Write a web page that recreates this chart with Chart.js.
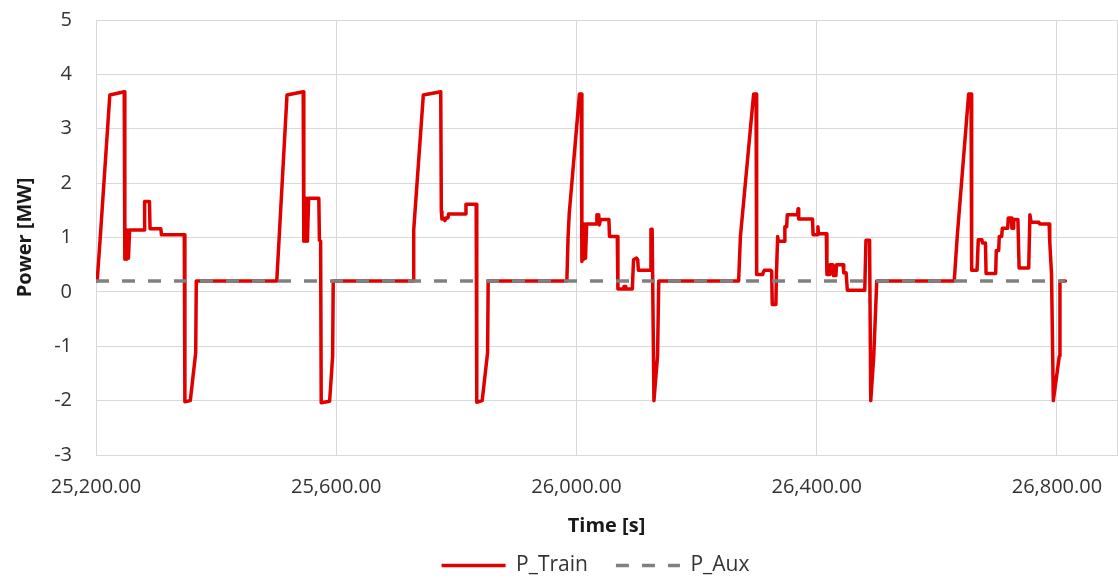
<!DOCTYPE html>
<html>
<head>
<meta charset="utf-8">
<script src="https://cdn.jsdelivr.net/npm/chart.js@4.4.1/dist/chart.umd.min.js"></script>
<style>
html,body{margin:0;padding:0;background:#ffffff;overflow:hidden;}
#wrap{width:1118px;height:578px;position:relative;}
</style>
</head>
<body>
<div id="wrap"><canvas id="c" width="1118" height="578"></canvas></div>
<script>
// ---- data ----
const trainTime = [
  25200, 25202, 25208, 25223, 25247, 25248, 25250, 25251, 25253, 25254, 25256, 25280, 25281, 25289, 25290, 25308, 25309, 25347, 25348, 25357, 25366, 25367,
  25501, 25518, 25545, 25546, 25548, 25549, 25551, 25552, 25554, 25571, 25572, 25574, 25575, 25589, 25594, 25595,
  25728, 25729, 25745, 25774, 25775, 25776, 25780, 25781, 25783, 25786, 25787, 25815, 25816, 25833, 25834, 25843, 25852, 25853,
  25984, 25986, 25988, 26005, 26008, 26009, 26011, 26012, 26014, 26015, 26017, 26033, 26034, 26036, 26037, 26038, 26040, 26054, 26055, 26068, 26069, 26078, 26079, 26082, 26083, 26093, 26095, 26100, 26102, 26103, 26123, 26124, 26126, 26129, 26135, 26137,
  26270, 26273, 26295, 26299, 26300, 26310, 26311, 26313, 26323, 26325, 26326, 26332, 26333, 26335, 26336, 26346, 26347, 26350, 26351, 26368, 26369, 26370, 26393, 26394, 26401, 26402, 26403, 26416, 26417, 26421, 26422, 26427, 26428, 26432, 26433, 26444, 26445, 26449, 26451, 26480, 26482, 26488, 26490, 26495, 26500,
  26629, 26634, 26653, 26657, 26658, 26667, 26669, 26675, 26676, 26681, 26682, 26698, 26699, 26703, 26704, 26708, 26709, 26718, 26719, 26724, 26725, 26727, 26728, 26735, 26737, 26753, 26755, 26757, 26770, 26771, 26787, 26788, 26791, 26794, 26804, 26805, 26814
];
const trainPower = [
  0.2, 0.2, 1.15, 3.62, 3.68, 0.6, 1.14, 0.6, 1.14, 0.62, 1.14, 1.14, 1.66, 1.66, 1.16, 1.16, 1.05, 1.05, -2.02, -2.0, -1.12, 0.2,
  0.2, 3.62, 3.68, 0.93, 1.72, 0.93, 1.72, 0.93, 1.72, 1.72, 0.95, 0.93, -2.04, -2.01, -1.18, 0.2,
  0.2, 1.14, 3.62, 3.68, 1.48, 1.34, 1.35, 1.31, 1.36, 1.36, 1.43, 1.43, 1.61, 1.61, -2.03, -2.0, -1.12, 0.2,
  0.2, 1.0, 1.45, 3.64, 3.64, 0.56, 1.25, 0.6, 1.25, 0.62, 1.25, 1.25, 1.42, 1.38, 1.42, 1.23, 1.33, 1.33, 1.02, 1.02, 0.055, 0.055, 0.1, 0.1, 0.055, 0.055, 0.59, 0.62, 0.59, 0.4, 0.4, 1.15, 1.15, -2.0, -1.18, 0.2,
  0.2, 1.02, 3.64, 3.64, 0.32, 0.32, 0.36, 0.4, 0.4, 0.38, -0.23, -0.23, 0.35, 1.02, 0.93, 0.93, 1.2, 1.2, 1.42, 1.42, 1.53, 1.34, 1.34, 1.05, 1.05, 1.2, 1.07, 1.07, 0.32, 0.32, 0.5, 0.5, 0.3, 0.3, 0.5, 0.5, 0.35, 0.35, 0.03, 0.03, 0.95, 0.95, -2.0, -1.18, 0.2,
  0.2, 1.02, 3.64, 3.64, 0.4, 0.4, 0.96, 0.96, 0.9, 0.9, 0.34, 0.34, 0.76, 0.76, 1.02, 1.02, 1.17, 1.17, 1.36, 1.36, 1.17, 1.17, 1.33, 1.33, 0.44, 0.44, 1.42, 1.28, 1.28, 1.25, 1.25, 0.93, 0.32, -2.0, -1.18, 0.2, 0.2
];
const auxTime = [25200, 26814];
const auxPower = [0.2, 0.2];
const xTickValues = [25200, 25600, 26000, 26400, 26800];
const xMin = 25200, xMax = 26900;
const yMin = -3, yMax = 5, yStep = 1;
const seriesNames = ['P_Train', 'P_Aux'];
const xTitle = 'Time [s]';
const yTitle = 'Power [MW]';

// ---- chart ----
const FONT = '"Open Sans", "DejaVu Sans", sans-serif';
const TEXT = '#333333';
const GRID = '#d9d9d9';
const fmt = new Intl.NumberFormat('en-US', {minimumFractionDigits: 2, maximumFractionDigits: 2});
const trainPts = trainTime.map((t, i) => ({x: t, y: trainPower[i]}));
const auxPts = auxTime.map((t, i) => ({x: t, y: auxPower[i]}));

const legendShift = {
  id: 'legendShift',
  afterLayout(chart) {
    if (chart.legend) { chart.legend.left -= 22; }
  }
};

new Chart(document.getElementById('c').getContext('2d'), {
  type: 'line',
  data: {
    datasets: [
      {label: seriesNames[0], data: trainPts, borderColor: '#e00000', backgroundColor: '#e00000',
       borderWidth: 3.5, pointRadius: 0, tension: 0, borderJoinStyle: 'round', borderCapStyle: 'round', order: 1},
      {label: seriesNames[1], data: auxPts, borderColor: '#808080', backgroundColor: '#808080',
       borderWidth: 3.5, borderDash: [13, 13], pointRadius: 0, tension: 0, order: 0}
    ]
  },
  options: {
    responsive: false,
    animation: false,
    devicePixelRatio: 1,
    layout: {padding: {top: 20, right: 1, bottom: -8, left: 0}},
    plugins: {
      legend: {
        position: 'bottom',
        fullSize: false,
        labels: {
          usePointStyle: true,
          pointStyle: 'line',
          pointStyleWidth: 64,
          padding: 28,
          color: TEXT,
          font: {family: FONT, size: 21},
          sort: (a, b) => a.datasetIndex - b.datasetIndex,
          generateLabels: (chart) => {
            const items = Chart.defaults.plugins.legend.labels.generateLabels(chart);
            return items.map(it => {
              const ds = chart.data.datasets[it.datasetIndex];
              it.lineDash = ds.borderDash || [];
              it.lineWidth = ds.borderWidth;
              it.strokeStyle = ds.borderColor;
              it.fillStyle = ds.borderColor;
              it.lineCap = 'butt';
              return it;
            });
          }
        }
      },
      tooltip: {enabled: false}
    },
    scales: {
      x: {
        type: 'linear',
        min: xMin,
        max: xMax,
        afterBuildTicks: (s) => { s.ticks = xTickValues.concat([xMax]).map(v => ({value: v})); },
        afterFit: (s) => { s.height = 72; },
        ticks: {
          autoSkip: false, maxRotation: 0, padding: 0, color: TEXT,
          font: {family: FONT, size: 20},
          callback: (v) => (xTickValues.includes(v) ? fmt.format(v) : '')
        },
        grid: {color: GRID, lineWidth: 1, drawTicks: true, tickLength: 20, tickColor: 'rgba(0,0,0,0)'},
        border: {color: GRID},
        title: {display: true, text: xTitle, color: '#1a1a1a',
                font: {family: FONT, size: 20, weight: 'bold'}, padding: {top: 0, bottom: -11}}
      },
      y: {
        min: yMin,
        max: yMax,
        afterFit: (s) => { s.width = 96; },
        ticks: {stepSize: yStep, padding: 0, color: TEXT, font: {family: FONT, size: 20}},
        grid: {color: GRID, lineWidth: 1, drawTicks: true, tickLength: 24, tickColor: 'rgba(0,0,0,0)'},
        border: {color: GRID},
        title: {display: true, text: yTitle, color: '#1a1a1a',
                font: {family: FONT, size: 20, weight: 'bold'}, padding: {top: 13, bottom: 0}}
      }
    }
  },
  plugins: [legendShift]
});
</script>
</body>
</html>
